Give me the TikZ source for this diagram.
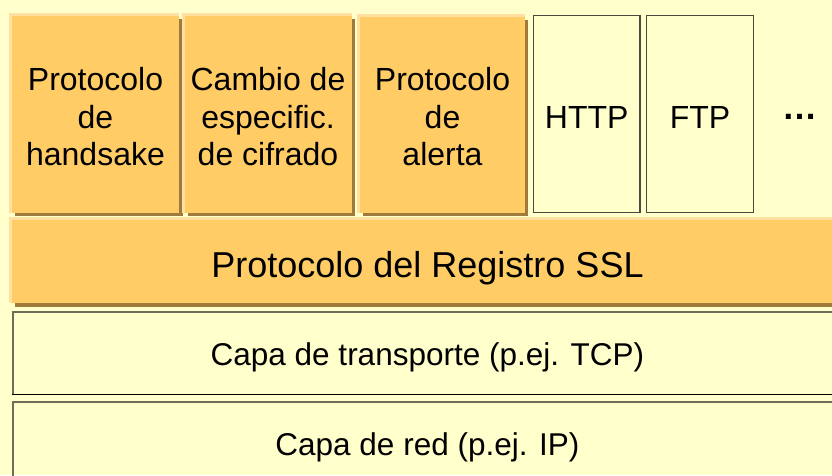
\documentclass[tikz,border=0pt]{standalone}
\usepackage{fontspec}
\setmainfont{Liberation Sans}
\definecolor{bg}{HTML}{FFFFCC}
\definecolor{org}{HTML}{FFCC66}
\definecolor{orglight}{HTML}{FFE0A0}
\definecolor{orgdark}{HTML}{9E7B3C}
\definecolor{edgegray}{HTML}{6E6E58}
\definecolor{appedge}{HTML}{4A4A40}
\newcommand\orangebox[4]{%
  \fill[orgdark] (#1+6,#2+5.5) rectangle (#3+3.4,#4+3.4);
  \fill[orglight] (#1,#2) rectangle (#3,#4);
  \fill[org] (#1+3,#2+3) rectangle (#3,#4);}
\begin{document}
\begin{tikzpicture}[x=1pt,y=-1pt,
  lbl/.style={font=\fontsize{32}{37.5}\selectfont, align=center, inner sep=0pt},
  one/.style={font=\fontsize{32}{37.5}\selectfont, anchor=base, inner sep=0pt},
  appbox/.style={draw=appedge, line width=1.2pt, fill=bg}]
\useasboundingbox (0,0) rectangle (832,475);
\fill[bg] (0,0) rectangle (832,475);
% top protocol boxes
\orangebox{9}{13.3}{179.3}{212.7}
\orangebox{182}{13.3}{351.6}{212.7}
\orangebox{357.3}{14}{525}{212.7}
\node[lbl] (hs) at (95.5,117) {Protocolo\\de\\handsake};
\node[lbl] (cc) at (268,117) {Cambio de\\especific.\\de cifrado};
\node[lbl] (al) at (442.5,117) {Protocolo\\de\\alerta};
% application boxes
\draw[appbox] (533.3,15.7) rectangle (640,212.7);
\draw[appbox] (646.7,15.7) rectangle (753.3,212.7);
\node[one] (http) at (586.7,128) {HTTP};
\node[one] (ftp) at (700,128) {FTP};
\node[anchor=base, inner sep=0pt, font=\fontsize{35}{38}\selectfont\bfseries] (dots) at (800,119.5) {…};
% SSL record
\orangebox{8.7}{216.7}{850}{303.3}
\node[anchor=base, inner sep=0pt, font=\fontsize{36}{40}\selectfont] (ssl) at (427.5,277) {Protocolo del Registro SSL};
% transport
\fill[bg] (12,310.7) rectangle (850,394.3);
\draw[edgegray, line width=2pt] (12.5,394.3) -- (12.5,311.7) -- (850,311.7);
\draw[black, line width=1pt] (12,394.3) -- (850,394.3);
\node[anchor=base, inner sep=0pt, font=\fontsize{31.5}{36}\selectfont] (tcp) at (427.5,365) {Capa de transporte (p.ej. TCP)};
% network
\draw[edgegray, line width=2pt] (12.5,480) -- (12.5,402.3) -- (850,402.3);
\node[anchor=base, inner sep=0pt, font=\fontsize{31.5}{36}\selectfont] (ip) at (427.5,455) {Capa de red (p.ej. IP)};
\end{tikzpicture}
\end{document}
